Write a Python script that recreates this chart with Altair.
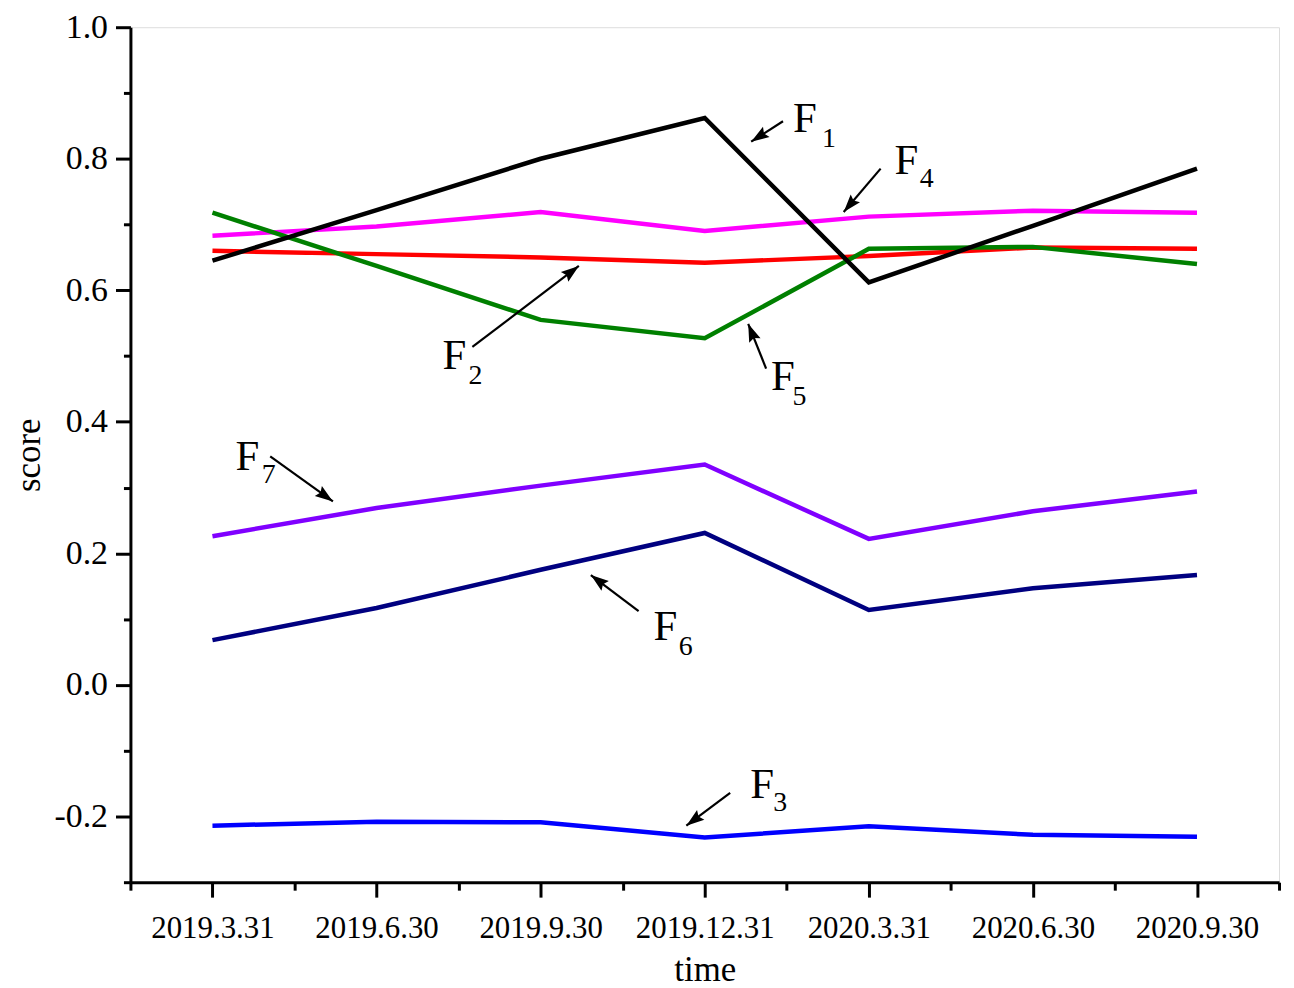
import math
import altair as alt
import pandas as pd

# ---- data ----
dates = ["2019.3.31", "2019.6.30", "2019.9.30", "2019.12.31", "2020.3.31", "2020.6.30", "2020.9.30"]
F1 = [0.645, 0.722, 0.800, 0.862, 0.612, 0.698, 0.785]
F2 = [0.660, 0.655, 0.650, 0.642, 0.652, 0.665, 0.663]
F3 = [-0.214, -0.208, -0.209, -0.232, -0.215, -0.228, -0.231]
F4 = [0.683, 0.697, 0.719, 0.690, 0.712, 0.721, 0.718]
F5 = [0.718, 0.637, 0.555, 0.527, 0.663, 0.666, 0.640]
F6 = [0.068, 0.117, 0.175, 0.231, 0.114, 0.147, 0.167]
F7 = [0.226, 0.269, 0.303, 0.335, 0.222, 0.264, 0.294]
series_names = ["F7", "F6", "F3", "F2", "F4", "F5", "F1"]
series_values = [F7, F6, F3, F2, F4, F5, F1]
series_colors = ["#8000FF", "#000080", "#0000FF", "#FF0000", "#FF00FF", "#008000", "#000000"]

# annotation labels (main letter + subscript), in data coordinates
ann_sub = ["1", "2", "3", "4", "5", "6", "7"]
ann_fx = [3.538, 1.402, 3.277, 4.157, 3.404, 2.688, 0.140]
ann_fy = [0.841, 0.481, -0.172, 0.777, 0.448, 0.068, 0.326]
ann_sx = [3.715, 1.560, 3.418, 4.310, 3.535, 2.842, 0.300]
ann_sy = [0.818, 0.458, -0.191, 0.757, 0.425, 0.046, 0.307]
# arrows: tail -> tip
arr_x1 = [3.477, 1.584, 3.155, 4.072, 3.374, 2.597, 0.352]
arr_y1 = [0.857, 0.514, -0.164, 0.785, 0.481, 0.112, 0.3475]
arr_x2 = [3.283, 2.233, 2.888, 3.847, 3.265, 2.306, 0.734]
arr_y2 = [0.826, 0.637, -0.214, 0.719, 0.549, 0.167, 0.279]

W, H = 1154, 859
XMIN, XMAX = -0.5, 6.5
YMIN, YMAX = -0.3, 1.0
FONT = "Liberation Serif"

rows = []
for k, (name, vals) in enumerate(zip(series_names, series_values)):
    for i, v in enumerate(vals):
        rows.append({"series": name, "idx": i, "score": v, "z": k})
df = pd.DataFrame(rows)

xs = alt.Scale(domain=[XMIN, XMAX], nice=False, zero=False)
ys = alt.Scale(domain=[YMIN, YMAX], nice=False, zero=False)

label_js = "[" + ",".join("'" + d + "'" for d in dates) + "]"
x_ticks = [XMIN + 0.5 * k for k in range(int((XMAX - XMIN) / 0.5) + 1)]
y_ticks = [round(YMIN + 0.1 * k, 1) for k in range(int(round((YMAX - YMIN) / 0.1)) + 1)]

x_axis = alt.Axis(
    values=x_ticks,
    labelExpr=f"datum.value % 1 === 0 && datum.value >= 0 ? {label_js}[datum.value] : ''",
    title="time", titleFont=FONT, titleFontSize=35, titleFontWeight="normal", titleColor="black",
    titlePadding=9,
    labelFont=FONT, labelFontSize=31, labelColor="black", labelPadding=17, labelOverlap=False,
    labelFlush=False,
    domainColor="black", domainWidth=3, tickColor="black", tickWidth=3,
    tickSize={"condition": {"test": "datum.value % 1 === 0", "value": 15}, "value": 8},
    grid=False,
)
y_axis = alt.Axis(
    values=y_ticks,
    labelExpr="abs(round(datum.value*10)) % 2 === 0 && datum.value > -0.25 ? replace(format(datum.value, '.1f'), '\u2212', '-') : ''",
    title="score", titleFont=FONT, titleFontSize=35, titleFontWeight="normal", titleColor="black",
    titlePadding=8,
    labelFont=FONT, labelFontSize=34, labelColor="black", labelPadding=8, labelOverlap=False,
    labelFlush=False,
    domainColor="black", domainWidth=3, tickColor="black", tickWidth=3,
    tickSize={"condition": {"test": "abs(round(datum.value*10)) % 2 === 0", "value": 15}, "value": 7},
    grid=False,
)

lines = alt.Chart(df).mark_line(strokeWidth=4.5, clip=False).encode(
    x=alt.X("idx:Q", scale=xs, axis=x_axis),
    y=alt.Y("score:Q", scale=ys, axis=y_axis),
    color=alt.Color("series:N", scale=alt.Scale(domain=series_names, range=series_colors), legend=None),
    detail="z:Q",
    order=alt.Order("idx:Q"),
)

# annotations
sx = W / (XMAX - XMIN)
sy = H / (YMAX - YMIN)
arr_rows = []
for i in range(len(ann_sub)):
    dx = (arr_x2[i] - arr_x1[i]) * sx
    dy = -(arr_y2[i] - arr_y1[i]) * sy
    ang = math.degrees(math.atan2(dx, -dy)) % 360
    arr_rows.append({"x1": arr_x1[i], "y1": arr_y1[i], "x2": arr_x2[i], "y2": arr_y2[i], "angle": ang,
                     "fx": ann_fx[i], "fy": ann_fy[i], "sx": ann_sx[i], "sy": ann_sy[i],
                     "F": "F", "sub": ann_sub[i]})
adf = pd.DataFrame(arr_rows)

arrow_lines = alt.Chart(adf).mark_rule(color="black", strokeWidth=2.2).encode(
    x=alt.X("x1:Q", scale=xs), y=alt.Y("y1:Q", scale=ys), x2="x2:Q", y2="y2:Q"
)
arrow_heads = alt.Chart(adf).mark_point(
    shape="M0,0L0.34,1L0,0.85L-0.34,1Z", filled=True, color="black", opacity=1, size=1300, strokeWidth=0
).encode(
    x=alt.X("x2:Q", scale=xs), y=alt.Y("y2:Q", scale=ys), angle=alt.Angle("angle:Q", scale=None)
)
f_text = alt.Chart(adf).mark_text(font=FONT, fontSize=43, align="left", baseline="alphabetic", color="black").encode(
    x=alt.X("fx:Q", scale=xs), y=alt.Y("fy:Q", scale=ys), text="F:N"
)
s_text = alt.Chart(adf).mark_text(font=FONT, fontSize=28, align="left", baseline="alphabetic", color="black").encode(
    x=alt.X("sx:Q", scale=xs), y=alt.Y("sy:Q", scale=ys), text="sub:N"
)

chart = alt.layer(lines, arrow_lines, arrow_heads, f_text, s_text).properties(
    width=W, height=H,
    padding={"left": 3, "top": 0, "right": 5, "bottom": 0},
).configure_view(stroke=None).configure(background="white")

chart.save("out.html", embed_options={"renderer": "svg", "actions": False})
